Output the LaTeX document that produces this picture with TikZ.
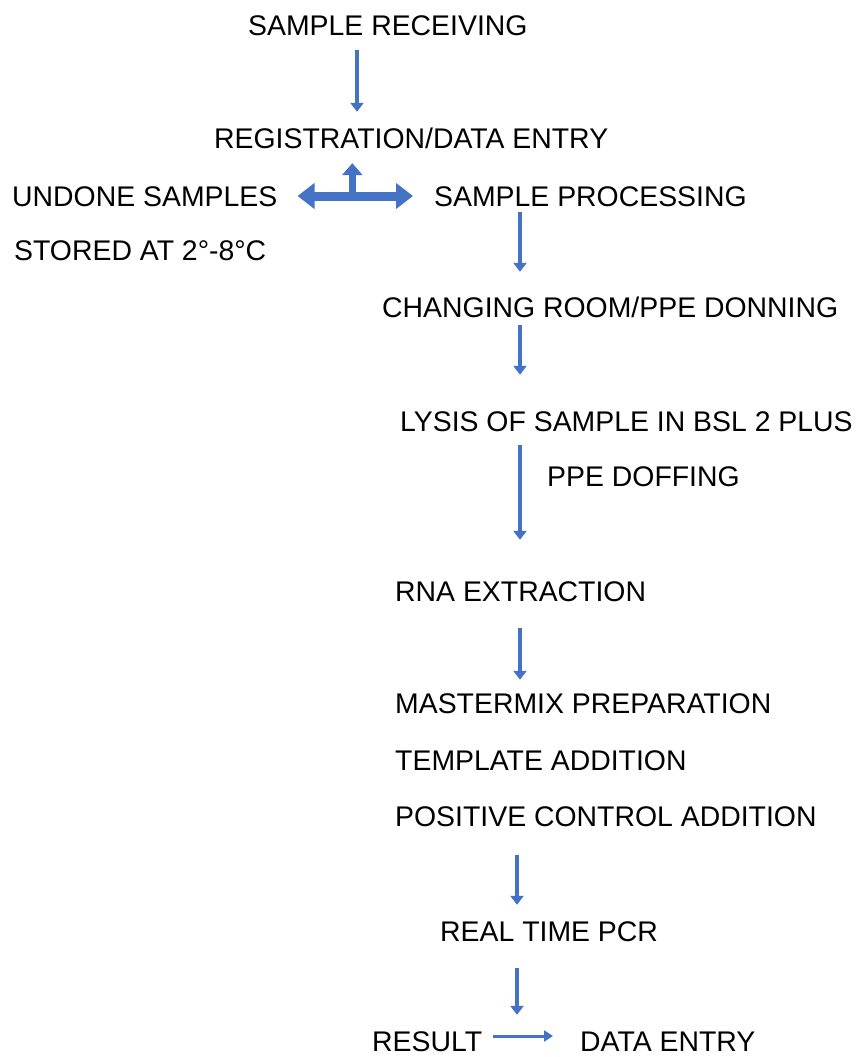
\documentclass[tikz,border=0pt]{standalone}
\usepackage{fontspec}
\setmainfont{Liberation Sans}
\usetikzlibrary{arrows.meta,calc}
\definecolor{flowblue}{RGB}{68,114,196}
\tikzset{
  lbl/.style={anchor=base west,inner sep=0pt,text height=20pt,text depth=0pt,
    font=\fontsize{28.4}{30}\selectfont},
  flow/.style={draw=flowblue,line width=4pt,-{Triangle[width=13pt,length=9pt]}},
  thinflow/.style={draw=flowblue,line width=3pt,-{Triangle[width=11pt,length=9pt]}},
  fat/.style={draw=flowblue,line width=9pt,{Triangle[width=25pt,length=17pt]}-{Triangle[width=25pt,length=17pt]}},
  fatup/.style={draw=flowblue,line width=7pt,-{Triangle[width=20pt,length=12pt]}}
}
\begin{document}
\begin{tikzpicture}[x=1pt,y=-1pt]
\useasboundingbox (0,0) rectangle (861,1057);

% to write the steps
\node [lbl] (recv) at (248,36) {SAMPLE RECEIVING};
\node [lbl] (reg) at (214,148) {REGISTRATION/DATA ENTRY};
\node [lbl] (undone) at (12,206) {UNDONE SAMPLES};
\node [lbl] (proc) at (434,206) {SAMPLE PROCESSING};
\node [lbl] (stored) at (14,260) {STORED AT 2°-8°C};
\node [lbl] (chg) at (382,317) {CHANGING ROOM/PPE DONNING};
\node [lbl] (lysis) at (400,431) {LYSIS OF SAMPLE IN BSL 2 PLUS};
\node [lbl] (doff) at (547,486) {PPE DOFFING};
\node [lbl] (rna) at (395,601) {RNA EXTRACTION};
\node [lbl] (mmix) at (395,713) {MASTERMIX PREPARATION};
\node [lbl] (tmpl) at (395,770) {TEMPLATE ADDITION};
\node [lbl] (posc) at (395,826) {POSITIVE CONTROL ADDITION};
\node [lbl] (pcr) at (440,941) {REAL TIME PCR};
\node [lbl] (result) at (372,1051) {RESULT};
\node [lbl] (dentry) at (580,1051) {DATA ENTRY};

% x of the down arrows
\coordinate (c1) at (357,0);
\coordinate (c2) at (520,0);
\coordinate (c3) at (517,0);

% to draw down arrows
\draw [flow,shorten <=14pt,shorten >=16pt] (recv.south -| c1) -- (reg.north -| c1);
\draw [flow,shorten <=6pt,shorten >=25pt] (proc.south -| c2) -- (chg.north -| c2);
\draw [flow,shorten <=8pt,shorten >=36pt] (chg.south -| c2) -- (lysis.north -| c2);
\draw [flow,shorten <=14pt,shorten >=41pt] (lysis.south -| c2) -- (rna.north -| c2);
\draw [flow,shorten <=27pt,shorten >=13pt] (rna.south -| c2) -- (mmix.north -| c2);
\draw [flow,shorten <=29pt,shorten >=16pt] (posc.south -| c3) -- (pcr.north -| c3);
\draw [flow,shorten <=27pt,shorten >=16pt] (pcr.south -| c3) -- (result.north -| c3);

% to draw the fork arrow
\draw [fat,shorten <=20pt,shorten >=21pt] (undone.east) -- (proc.west)
  coordinate [pos=0.478] (fork);
\draw [fatup,shorten >=15pt] (fork) -- (fork |- reg.south);

% to draw result arrow
\draw [thinflow,shorten <=11pt,shorten >=27pt] ([yshift=5pt]result.east) -- ([yshift=5pt]dentry.west);
\end{tikzpicture}
\end{document}
